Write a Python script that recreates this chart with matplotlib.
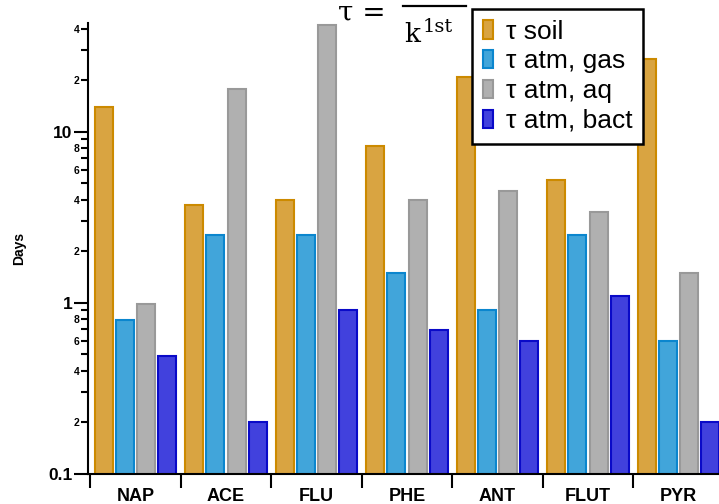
import numpy as np
import matplotlib.pyplot as plt
from matplotlib.lines import Line2D
from matplotlib.ticker import FixedLocator, FixedFormatter

plt.rcParams['font.family'] = ['Liberation Sans', 'DejaVu Sans']

# datos (dias)
categorias = ['NAP', 'ACE', 'FLU', 'PHE', 'ANT', 'FLUT', 'PYR']
tau_soil = [13.9, 3.7, 4.0, 8.2, 20.8, 5.2, 26.6]
tau_gas = [0.79, 2.5, 2.5, 1.5, 0.9, 2.5, 0.6]
tau_aq = [0.98, 17.7, 42, 4.0, 4.5, 3.4, 1.5]
tau_bact = [0.49, 0.2, 0.9, 0.69, 0.6, 1.09, 0.2]

series = [
    (tau_soil, 'τ soil', '#D9A441', '#CC8A00'),
    (tau_gas, 'τ atm, gas', '#41A5DA', '#0B86CE'),
    (tau_aq, 'τ atm, aq', '#B0B0B0', '#999999'),
    (tau_bact, 'τ atm, bact', '#4141DD', '#0A0AC8'),
]

fig = plt.figure(figsize=(7.19, 5.04), dpi=100)
ax = fig.add_axes([88 / 719, 1 - 473.7 / 504, 1 - 88 / 719, (473.7 - 23.3) / 504])

x = np.arange(len(categorias))
paso = 0.235
ancho = 0.2
for i, (valores, etiqueta, color, borde) in enumerate(series):
    ax.bar(x + (i - 1.5) * paso, valores, ancho, color=color, edgecolor=borde,
           linewidth=1.5, label=etiqueta, zorder=2)

ax.set_yscale('log')
ax.set_ylim(0.1, 43)
ax.set_xlim(-0.525, 6.447)

# eje y
ax.yaxis.set_major_locator(FixedLocator([0.1, 1, 10]))
ax.yaxis.set_major_formatter(FixedFormatter(['0.1', '1', '10']))
menores = [0.2, 0.3, 0.4, 0.5, 0.6, 0.7, 0.8, 0.9,
           2, 3, 4, 5, 6, 7, 8, 9, 20, 30, 40]
etiquetas_menores = ['2', '', '4', '', '6', '', '8', '',
                     '2', '', '4', '', '6', '', '8', '', '2', '', '4']
ax.yaxis.set_minor_locator(FixedLocator(menores))
ax.yaxis.set_minor_formatter(FixedFormatter(etiquetas_menores))
ax.tick_params(axis='y', which='major', length=10, width=1.5, pad=1,
               labelsize=12.5)
ax.tick_params(axis='y', which='minor', length=5, width=1.5, pad=1,
               labelsize=7.5)
for t in ax.get_yticklabels(which='both'):
    t.set_fontweight('bold')

# eje x: etiquetas al centro, marcas entre grupos
ax.set_xticks(x)
ax.set_xticklabels(categorias, fontsize=13, fontweight='bold')
ax.set_xticks(np.arange(len(categorias)) + 0.5 - 1, minor=True)
ax.tick_params(axis='x', which='major', length=0, pad=10)
ax.tick_params(axis='x', which='minor', length=10, width=1.5)

ax.set_ylabel('Days', fontsize=10, fontweight='bold', labelpad=16)

for lado in ['top', 'right']:
    ax.spines[lado].set_visible(False)
ax.spines['left'].set_linewidth(1.5)
ax.spines['bottom'].set_linewidth(1.5)

leg = ax.legend(loc='upper left', bbox_to_anchor=(472 / 719, 1 - 9 / 504),
                bbox_transform=fig.transFigure, borderaxespad=0, fontsize=19,
                handlelength=0.4, handleheight=0.7, handletextpad=0.5,
                labelspacing=0.22, borderpad=0.4, fancybox=False,
                framealpha=1, edgecolor='black')
leg.get_frame().set_linewidth(1.8)
leg.set_zorder(5)

# formula tau = 1/k (el numerador queda fuera del recorte original)
fig.text(338 / 719, 1 - 21 / 504, 'τ =', fontsize=20, family='DejaVu Serif',
         va='baseline', ha='left')
fig.add_artist(Line2D([403 / 719, 466 / 719], [1 - 6 / 504, 1 - 6 / 504],
                      color='black', linewidth=1.6, transform=fig.transFigure))
fig.text(404 / 719, 1 - 42 / 504, 'k', fontsize=19, family='DejaVu Serif',
         va='baseline', ha='left')
fig.text(423 / 719, 1 - 32 / 504, '1st', fontsize=14, family='DejaVu Serif',
         va='baseline', ha='left')

fig.savefig('out.png', dpi=100)
